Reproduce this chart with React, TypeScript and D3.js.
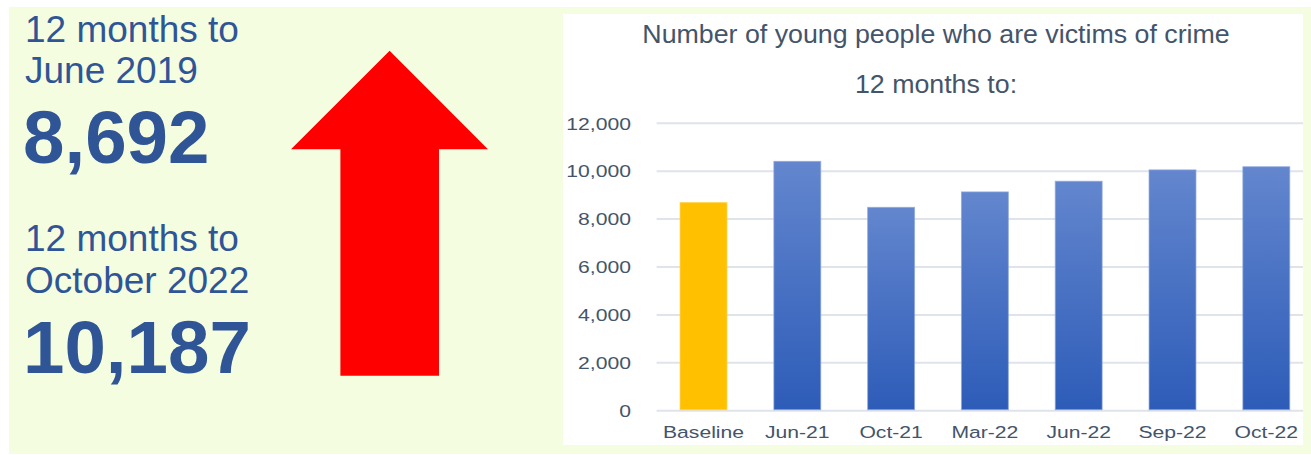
import React from "react";
import * as d3 from "d3";

const categories = ["Baseline", "Jun-21", "Oct-21", "Mar-22", "Jun-22", "Sep-22", "Oct-22"];
const victims = [8692, 10410, 8490, 9135, 9580, 10055, 10187];
const yTicks = [0, 2000, 4000, 6000, 8000, 10000, 12000];
const chartTitle = "Number of young people who are victims of crime";
const chartSubtitle = "12 months to:";
const leftBlocks = [
  { lines: ["12 months to", "June 2019"], value: "8,692" },
  { lines: ["12 months to", "October 2022"], value: "10,187" },
];

const W = 1311;
const H = 455;
const FONT = "'Liberation Sans', Arial, Helvetica, sans-serif";
const BLUE_TEXT = "#2f5597";
const AXIS_TEXT = "#44546a";

export default function App() {
  const x = d3
    .scaleBand<string>()
    .domain(categories)
    .range([656.6, 1313.2])
    .paddingInner(0.5)
    .paddingOuter(0.25);
  const y = d3.scaleLinear().domain([0, 12000]).range([410.7, 123.3]);
  const fmt = d3.format(",");

  const arrow = d3.path();
  arrow.moveTo(389.6, 50.7);
  arrow.lineTo(488, 149.3);
  arrow.lineTo(439, 149.3);
  arrow.lineTo(439, 375.7);
  arrow.lineTo(340.4, 375.7);
  arrow.lineTo(340.4, 149.3);
  arrow.lineTo(291, 149.3);
  arrow.closePath();

  const blockY = [
    { l1: 42, l2: 83.3, v: 163 },
    { l1: 250.7, l2: 293.3, v: 372.7 },
  ];

  return (
    <svg
      width={W}
      height={H}
      style={{ position: "absolute", left: 0, top: 0, display: "block" }}
      fontFamily={FONT}
    >
      <defs>
        <linearGradient id="barGrad" x1="0" y1="0" x2="0" y2="1">
          <stop offset="0%" stopColor="#6386ce" />
          <stop offset="100%" stopColor="#2d5cb8" />
        </linearGradient>
        <clipPath id="plotClip">
          <rect x={563} y={14} width={740} height={431} />
        </clipPath>
      </defs>
      <rect x={0} y={0} width={W} height={H} fill="#ffffff" />
      <rect x={9} y={7} width={W - 9} height={H - 8} fill="#f5fde1" />

      {leftBlocks.map((b, i) => (
        <g key={i} fill={BLUE_TEXT}>
          <text x={25} y={blockY[i].l1} fontSize={37}>{b.lines[0]}</text>
          <text x={25} y={blockY[i].l2} fontSize={37}>{b.lines[1]}</text>
          <text x={23} y={blockY[i].v} fontSize={74.5} fontWeight="bold">{b.value}</text>
        </g>
      ))}

      <path d={arrow.toString()} fill="#ff0000" />

      <rect x={563} y={14} width={740} height={431} fill="#ffffff" />

      <g transform="translate(936,43.3) scale(1.05,1)">
        <text textAnchor="middle" fontSize={25.5} fill={AXIS_TEXT}>{chartTitle}</text>
      </g>
      <g transform="translate(936,93.3) scale(1.05,1)">
        <text textAnchor="middle" fontSize={25.5} fill={AXIS_TEXT}>{chartSubtitle}</text>
      </g>

      <g clipPath="url(#plotClip)">
        {yTicks.map((t) => (
          <line key={t} x1={656.6} x2={1313} y1={y(t)} y2={y(t)} stroke="#dfe3ea" strokeWidth={2} />
        ))}
        {categories.map((c, i) => (
          <rect
            key={c}
            x={x(c)}
            y={y(victims[i])}
            width={x.bandwidth()}
            height={y(0) - y(victims[i]) - 1}
            fill={i === 0 ? "#ffc000" : "url(#barGrad)"}
            stroke={i === 0 ? "#ffd24d" : "#8aa5dd"}
            strokeWidth={1}
            strokeOpacity={0.7}
          />
        ))}
      </g>

      {yTicks.map((t) => (
        <g key={t} transform={`translate(631,${y(t) + 6.2}) scale(1.23,1)`}>
          <text textAnchor="end" fontSize={17.2} fill={AXIS_TEXT}>{fmt(t)}</text>
        </g>
      ))}

      {categories.map((c) => (
        <g key={c} transform={`translate(${(x(c) ?? 0) + x.bandwidth() / 2},438.3) scale(1.23,1)`}>
          <text textAnchor="middle" fontSize={17.2} fill={AXIS_TEXT}>{c}</text>
        </g>
      ))}
    </svg>
  );
}
